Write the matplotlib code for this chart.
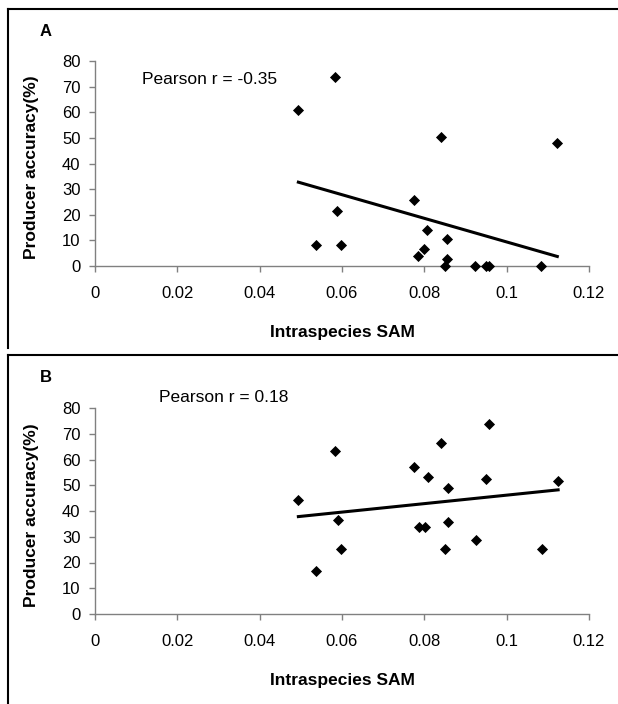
import numpy as np
import matplotlib
matplotlib.use("Agg")
import matplotlib.pyplot as plt
from matplotlib.lines import Line2D

plt.rcParams['font.family'] = ['Liberation Sans', 'DejaVu Sans']

sam = [0.0494, 0.0582, 0.0536, 0.0589, 0.0597, 0.0774, 0.0785, 0.0799, 0.0806,
       0.0840, 0.0849, 0.0856, 0.0856, 0.0924, 0.0949, 0.0957, 0.1084, 0.1123]
acc_a = [61.0, 73.9, 8.3, 21.4, 8.3, 25.9, 3.8, 6.7, 14.0,
         50.2, 0.0, 10.6, 2.9, 0.0, 0.0, 0.0, 0.0, 47.9]
acc_b = [44.4, 63.2, 16.6, 36.5, 25.2, 56.9, 33.7, 33.7, 53.3,
         66.6, 25.2, 35.9, 48.9, 28.6, 52.4, 73.9, 25.2, 51.7]
sam_b = [0.0494, 0.0583, 0.0536, 0.0590, 0.0598, 0.0775, 0.0786, 0.0801, 0.0808,
         0.0840, 0.0850, 0.0858, 0.0858, 0.0926, 0.0951, 0.0958, 0.1086, 0.1125]
x_ticks = [0, 0.02, 0.04, 0.06, 0.08, 0.1, 0.12]
x_tick_labels = ["0", "0.02", "0.04", "0.06", "0.08", "0.1", "0.12"]
y_ticks = [0, 10, 20, 30, 40, 50, 60, 70, 80]
panel_labels = ["A", "B"]
pearson_texts = ["Pearson r = -0.35", "Pearson r = 0.18"]

W, H = 618, 704
fig = plt.figure(figsize=(W / 100, H / 100), dpi=100)

def px_axes(left, top, right, bottom):
    return fig.add_axes([left / W, 1 - bottom / H, (right - left) / W, (bottom - top) / H])

axis_col = "#808080"

def style(ax, xs, ys, ptxt, ptxt_pos, xl_y):
    ax.scatter(xs, ys, marker="D", s=32, color="black", linewidths=0, zorder=3, clip_on=False)
    k, b = np.polyfit(xs, ys, 1)
    xx = np.array([min(xs), max(xs)])
    ax.plot(xx, k * xx + b, color="black", lw=2.2, zorder=2)
    ax.set_xlim(0, 0.12)
    ax.set_ylim(0, 80)
    ax.set_xticks(x_ticks)
    ax.set_xticklabels(x_tick_labels)
    ax.set_yticks(y_ticks)
    for s in ["top", "right"]:
        ax.spines[s].set_visible(False)
    for s in ["left", "bottom"]:
        ax.spines[s].set_color(axis_col)
        ax.spines[s].set_linewidth(1.0)
    ax.tick_params(axis="both", direction="out", length=4.5, width=1.0, color=axis_col,
                   labelsize=12, labelcolor="black")
    ax.tick_params(axis="x", pad=10)
    ax.tick_params(axis="y", pad=6)
    ax.set_ylabel("Producer accuracy(%)", fontsize=12.5, fontweight="bold")
    ax.yaxis.set_label_coords(-0.113, 0.48)
    ax.set_xlabel("Intraspecies SAM", fontsize=12.5, fontweight="bold")
    ax.xaxis.set_label_coords(0.5, xl_y)
    ax.text(ptxt_pos[0], ptxt_pos[1], ptxt, transform=ax.transAxes, fontsize=12.5,
            ha="left", va="center")
    ax.patch.set_alpha(0)

axA = px_axes(95, 61, 589, 266)
style(axA, sam, acc_a, pearson_texts[0], (0.095, 0.912), -0.288)
axB = px_axes(95, 408, 589, 614)
style(axB, sam_b, acc_b, pearson_texts[1], (0.13, 1.049), -0.286)

fig.text(46 / W, 1 - 32 / H, panel_labels[0], fontsize=12, fontweight="bold", ha="center", va="center")
fig.text(46 / W, 1 - 377 / H, panel_labels[1], fontsize=12, fontweight="bold", ha="center", va="center")

def fline(x0, y0, x1, y1):
    fig.add_artist(Line2D([x0 / W, x1 / W], [1 - y0 / H, 1 - y1 / H], color="black", lw=1.5,
                          transform=fig.transFigure))

fline(8, 9, 618, 9)
fline(8, 9, 8, 348)
fline(8, 355, 618, 355)
fline(8, 355, 8, 704)

fig.savefig("out.png", dpi=100)
